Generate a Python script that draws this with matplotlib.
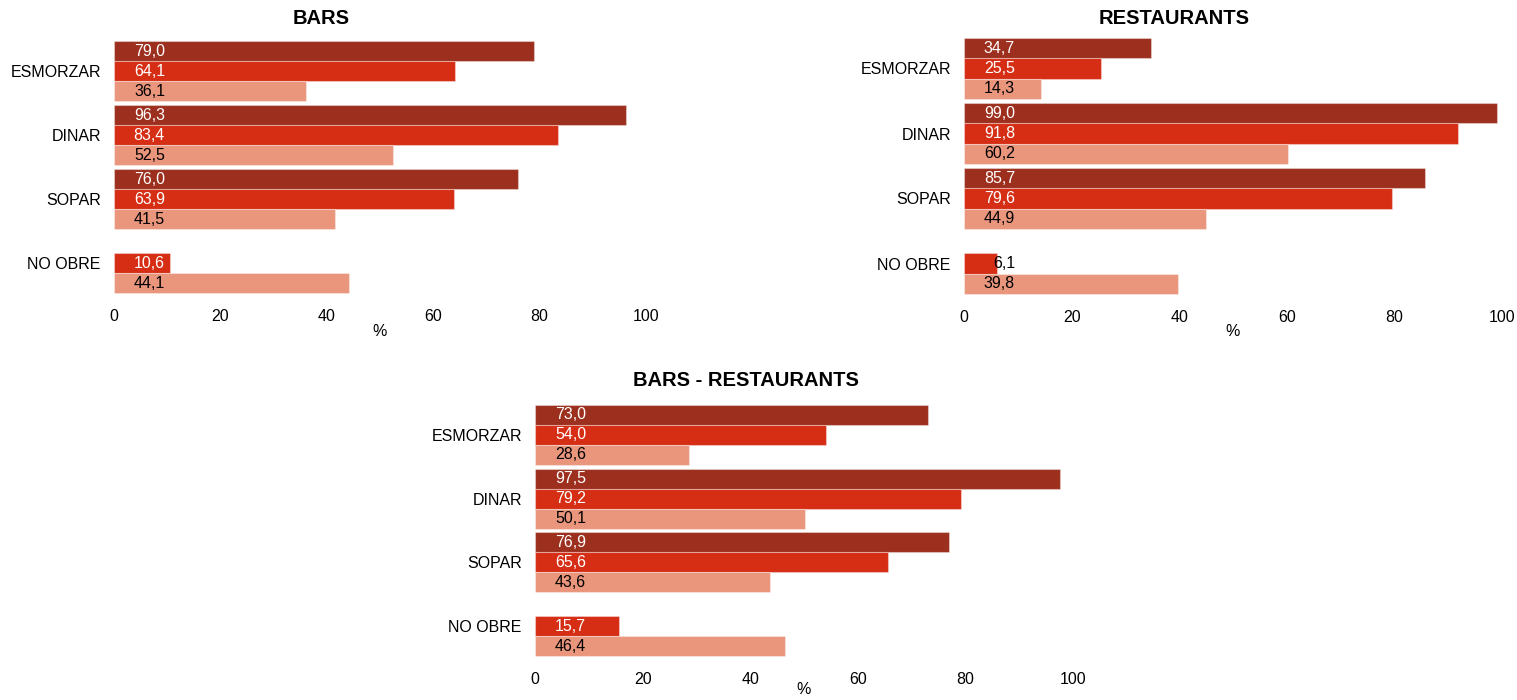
import matplotlib
matplotlib.use("Agg")
import matplotlib.pyplot as plt
import numpy as np

plt.rcParams['font.family'] = ['Liberation Sans', 'DejaVu Sans']

categories = ["ESMORZAR", "DINAR", "SOPAR", "NO OBRE"]
titles = ["BARS", "RESTAURANTS", "BARS - RESTAURANTS"]

# three series per panel (dark, mid, light); None = no bar
bars_dark = [79.0, 96.3, 76.0, None]
bars_mid = [64.1, 83.4, 63.9, 10.6]
bars_light = [36.1, 52.5, 41.5, 44.1]

rest_dark = [34.7, 99.0, 85.7, None]
rest_mid = [25.5, 91.8, 79.6, 6.1]
rest_light = [14.3, 60.2, 44.9, 39.8]

both_dark = [73.0, 97.5, 76.9, None]
both_mid = [54.0, 79.2, 65.6, 15.7]
both_light = [28.6, 50.1, 43.6, 46.4]

xticks = [0, 20, 40, 60, 80, 100]

colors = ["#9C2F1D", "#D52E15", "#E9967D"]
text_colors = ["white", "white", "black"]

W, H = 1517, 700
fig = plt.figure(figsize=(W / 100, H / 100), dpi=100)

# pixel boxes: (left, top, right, bottom), title (x, y), "%" label y
panels = [
    ((114, 39, 646, 295), (321, 18), 332, (bars_dark, bars_mid, bars_light)),
    ((964, 36, 1502, 296), (1174, 18), 332, (rest_dark, rest_mid, rest_light)),
    ((535, 403, 1073, 658), (746, 381), 690, (both_dark, both_mid, both_light)),
]

h = 0.3125
FS = 11.5

for (l, t, r, b), (tx, ty), py, series in panels:
    ax = fig.add_axes([l / W, 1 - b / H, (r - l) / W, (b - t) / H])
    y = np.arange(len(categories))
    px_per_unit = (r - l) / 100.0
    for k, vals in enumerate(series):
        offs = (k - 1) * h
        for i, v in enumerate(vals):
            if v is None:
                continue
            ax.barh(y[i] + offs, v, height=h, color=colors[k],
                    edgecolor=(1, 1, 1, 0.35), linewidth=0.8)
            tc = text_colors[k]
            if v * px_per_unit < 51:
                tc = "black"
            ax.annotate(f"{v:.1f}".replace(".", ","), xy=(0, y[i] + offs),
                        xytext=(51, 0), textcoords="offset pixels",
                        ha="right", va="center", fontsize=FS, color=tc)
    ax.set_xlim(0, 100)
    ax.set_ylim(3.5, -0.5)
    ax.set_yticks(y)
    ax.set_yticklabels(categories, fontsize=FS)
    ax.set_xticks(xticks)
    ax.set_xticklabels([str(v) for v in xticks], fontsize=FS)
    ax.tick_params(length=0, axis="y", pad=9.5)
    ax.tick_params(length=0, axis="x", pad=10)
    for s in ax.spines.values():
        s.set_visible(False)
    ax.set_facecolor("none")
    fig.text((l + r) / 2 / W, 1 - py / H, "%", ha="center", va="center",
             fontsize=FS)

for (box, (tx, ty), py, _), ttl in zip(panels, titles):
    fig.text(tx / W, 1 - ty / H, ttl, ha="center", va="center",
             fontsize=14.5, fontweight="bold")

fig.savefig("out.png", dpi=100)
